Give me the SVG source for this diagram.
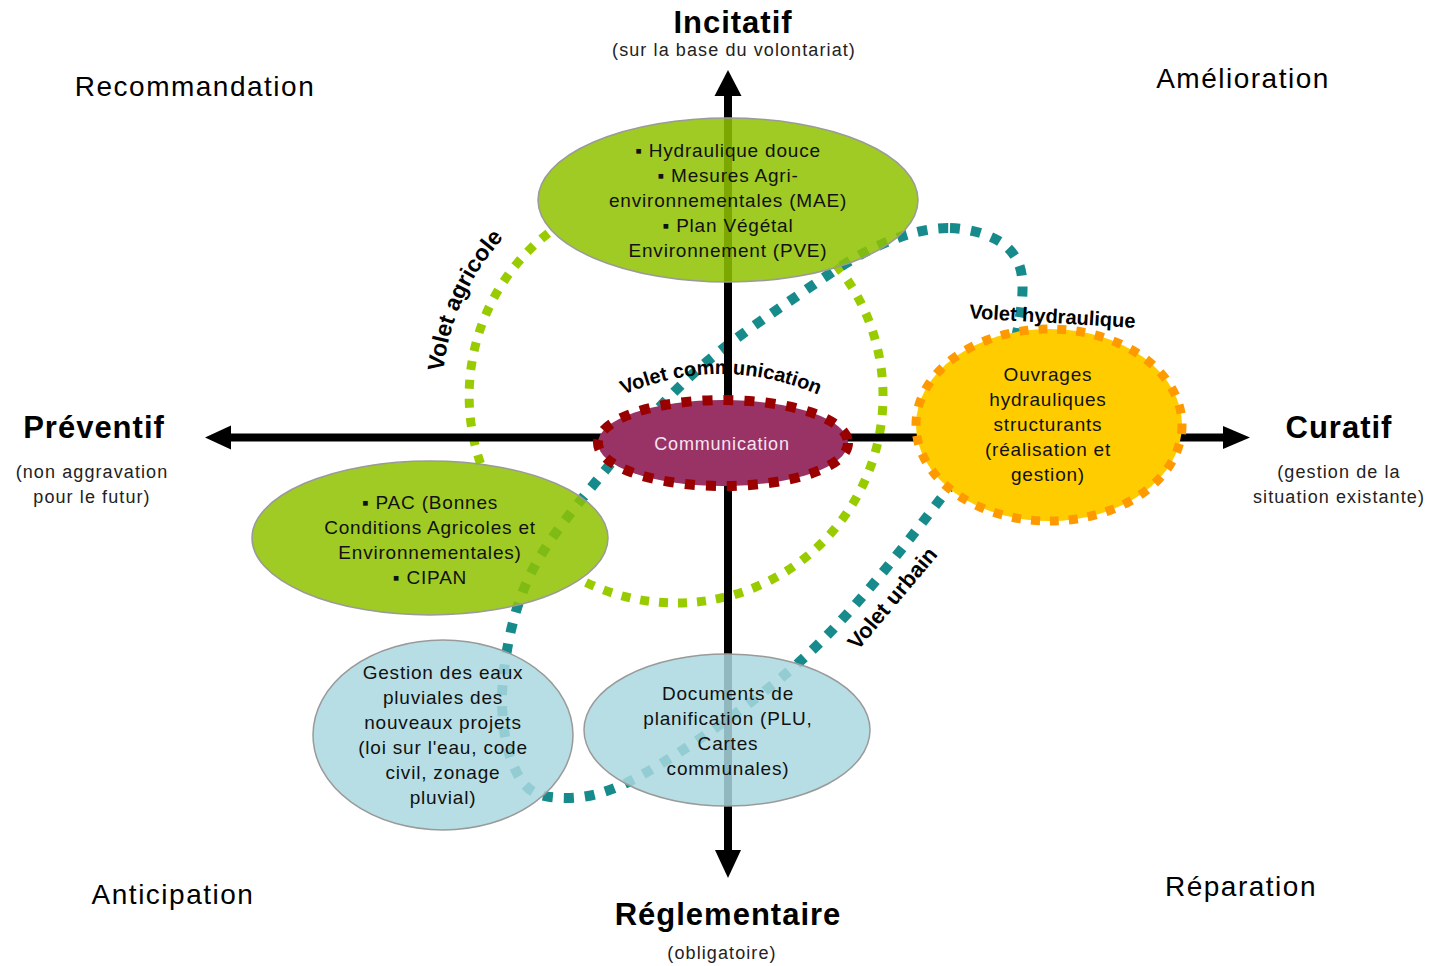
<svg xmlns="http://www.w3.org/2000/svg" width="1429" height="966" viewBox="0 0 1429 966">
<defs>
<style>
.ax{stroke:#000;stroke-width:8;fill:none}
.ah{fill:#000}
.gdots{fill:none;stroke:#99cc00;stroke-width:9;stroke-dasharray:9 10}
.tdots{fill:none;stroke:#178b8b;stroke-width:10;stroke-dasharray:10 11}
.eg{fill:#8fc300;fill-opacity:.86;stroke:#9a9a9a;stroke-width:1.5}
.eb{fill:#a9d8df;fill-opacity:.85;stroke:#9a9a9a;stroke-width:1.5}
.ec{fill:#993366;stroke:#990000;stroke-width:10;stroke-dasharray:10 11}
.ey{fill:#ffcc00;stroke:#ff9900;stroke-width:9;stroke-dasharray:9 10}
text{font-family:"Liberation Sans",Arial,sans-serif}
.t{font-size:19px;letter-spacing:.8px;fill:#111;text-anchor:middle}
.big{font-size:31px;font-weight:bold;letter-spacing:1px;fill:#000;text-anchor:middle}
.sub{font-size:18px;letter-spacing:1.1px;fill:#222;text-anchor:middle}
.corner{font-size:28px;letter-spacing:1.5px;fill:#000;text-anchor:middle}
.volet{font-size:22px;font-weight:bold;fill:#000}
</style>
<path id="pAgri" d="M 443.3 371.5 A 234 234 0 0 1 560 193"/>
<path id="pComm" d="M 612 400 Q 720 348 830 400"/>
</defs>

<g id="connectors">
<g id="volet-agricole-loop">
<path class="gdots" d="M 836.2 264.9 A 207 207 0 0 1 580 579.4"/>
<path class="gdots" d="M 480.5 463.5 A 207 207 0 0 1 552.9 229.6"/>
</g>
<path id="volet-urbain-hydraulique-loop" class="tdots" d="M 950 228 C 971.3 228.5 996 236 1008 248 C 1020 260 1024.2 273 1022 300 C 1019.8 327 1008.3 377.2 995 410 C 981.7 442.8 973.5 456 942 497 C 910.5 538 856.3 609.5 806 656 C 755.7 702.5 682.7 752.5 640 776 C 597.3 799.5 571.3 799.3 550 797 C 528.7 794.7 519.8 781.5 512 762 C 504.2 742.5 500 711.2 503 680 C 506 648.8 513.3 609.5 530 575 C 546.7 540.5 575.5 506.8 603 473 C 630.5 439.2 662.2 401.8 695 372 C 727.8 342.2 769.2 315.2 800 294 C 830.8 272.8 855 256 880 245 C 905 234 928.7 227.5 950 228 Z"/>
<line class="ax" x1="228" y1="437.5" x2="1226" y2="437.5"/>
<line class="ax" x1="728" y1="94" x2="728" y2="853"/>
<polygon class="ah" points="205,437.5 231,425.5 231,449.5"/>
<polygon class="ah" points="1250,437.5 1223,426 1223,449"/>
<polygon class="ah" points="728,70 714.5,96 741.5,96"/>
<polygon class="ah" points="728,878 715,850 741,850"/>
</g>

<g id="node-incitatif-box">
<ellipse class="eg" cx="728" cy="200" rx="190" ry="82"/>
<text class="t" x="728" y="157">▪ Hydraulique douce</text>
<text class="t" x="728" y="182">▪ Mesures Agri-</text>
<text class="t" x="728" y="207">environnementales (MAE)</text>
<text class="t" x="728" y="232">▪ Plan Végétal</text>
<text class="t" x="728" y="257">Environnement (PVE)</text>
</g>

<g id="node-pac">
<ellipse class="eg" cx="430" cy="538" rx="178" ry="77"/>
<text class="t" x="430" y="509">▪ PAC (Bonnes</text>
<text class="t" x="430" y="534">Conditions Agricoles et</text>
<text class="t" x="430" y="559">Environnementales)</text>
<text class="t" x="430" y="584">▪ CIPAN</text>
</g>

<g id="node-gestion">
<ellipse class="eb" cx="443" cy="735" rx="130" ry="95"/>
<text class="t" x="443" y="679">Gestion des eaux</text>
<text class="t" x="443" y="704">pluviales des</text>
<text class="t" x="443" y="729">nouveaux projets</text>
<text class="t" x="443" y="754">(loi sur l'eau, code</text>
<text class="t" x="443" y="779">civil, zonage</text>
<text class="t" x="443" y="804">pluvial)</text>
</g>

<g id="node-documents">
<ellipse class="eb" cx="727" cy="730" rx="143" ry="76"/>
<text class="t" x="728" y="700">Documents de</text>
<text class="t" x="728" y="725">planification (PLU,</text>
<text class="t" x="728" y="750">Cartes</text>
<text class="t" x="728" y="775">communales)</text>
</g>

<g id="node-communication">
<ellipse class="ec" cx="723" cy="443" rx="125" ry="43"/>
<text x="722" y="450" style="font-size:18px;letter-spacing:.8px;fill:#f6e4ef;text-anchor:middle">Communication</text>
</g>

<g id="node-ouvrages">
<ellipse class="ey" cx="1049" cy="425" rx="133" ry="96"/>
<text class="t" x="1048" y="381">Ouvrages</text>
<text class="t" x="1048" y="406">hydrauliques</text>
<text class="t" x="1048" y="431">structurants</text>
<text class="t" x="1048" y="456">(réalisation et</text>
<text class="t" x="1048" y="481">gestion)</text>
</g>

<g id="labels-volets">
<text class="volet" style="font-size:23px"><textPath href="#pAgri" startOffset="0">Volet agricole</textPath></text>
<text class="volet" style="font-size:20px;text-anchor:middle"><textPath href="#pComm" startOffset="50%">Volet communication</textPath></text>
<text class="volet" style="font-size:20px;text-anchor:middle" transform="translate(1052,323) rotate(3.3)">Volet hydraulique</text>
<text class="volet" style="font-size:22px;text-anchor:middle" transform="translate(898,603) rotate(-50)">Volet urbain</text>
</g>

<g id="axis-labels">
<text class="big" x="733" y="33">Incitatif</text>
<text class="sub" x="734" y="56">(sur la base du volontariat)</text>
<text class="big" x="94" y="438">Préventif</text>
<text class="sub" x="92" y="478">(non aggravation</text>
<text class="sub" x="92" y="503">pour le futur)</text>
<text class="big" x="1339" y="438">Curatif</text>
<text class="sub" x="1339" y="478">(gestion de la</text>
<text class="sub" x="1339" y="503">situation existante)</text>
<text class="big" x="728" y="925">Réglementaire</text>
<text class="sub" x="722" y="959">(obligatoire)</text>
</g>

<g id="quadrant-labels">
<text class="corner" x="195" y="96">Recommandation</text>
<text class="corner" x="1243" y="88">Amélioration</text>
<text class="corner" x="173" y="904">Anticipation</text>
<text class="corner" x="1241" y="896">Réparation</text>
</g>
</svg>
